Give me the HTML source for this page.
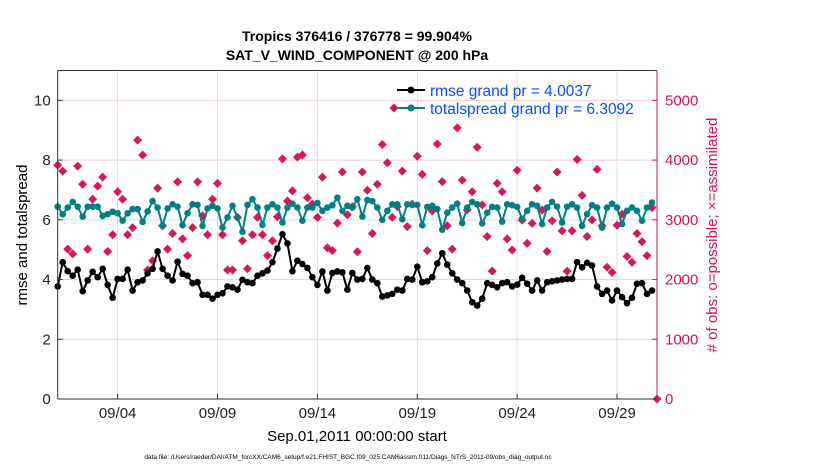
<!DOCTYPE html>
<html><head><meta charset="utf-8"><style>
body{margin:0;background:#fff;}
svg{display:block;font-family:"Liberation Sans",sans-serif;}
</style></head><body>
<svg id="chart" width="830" height="470" viewBox="0 0 830 470" xmlns="http://www.w3.org/2000/svg">
<text x="357" y="41" text-anchor="middle" font-size="14" font-weight="bold">Tropics 376416 / 376778 = 99.904%</text>
<text x="357" y="60" text-anchor="middle" font-size="14" font-weight="bold">SAT_V_WIND_COMPONENT @ 200 hPa</text>
<g id="grid"></g>
<g id="marks"></g>
<g id="axes"></g>
<text transform="translate(27,235) rotate(-90)" text-anchor="middle" font-size="15">rmse and totalspread</text>
<text transform="translate(717,235) rotate(-90)" text-anchor="middle" font-size="15" fill="#d1145a"># of obs: o=possible; ×=assimilated</text>
<text x="357" y="441" text-anchor="middle" font-size="15">Sep.01,2011 00:00:00 start</text>
<text x="348" y="459" text-anchor="middle" font-size="6.5">data file: /Users/raeder/DAI/ATM_forcXX/CAM6_setup/f.e21.FHIST_BGC.f09_025.CAM6assim.011/Diags_NTrS_2011-09/obs_diag_output.nc</text>
<g>
<line x1="397" y1="90" x2="425" y2="90" stroke="#000" stroke-width="2"/>
<circle cx="411" cy="90" r="3.5" fill="#000"/>
<text x="430" y="96" font-size="15.5" fill="#0b4dff">rmse grand pr = 4.0037</text>
<line x1="397" y1="108" x2="425" y2="108" stroke="#008080" stroke-width="2"/>
<circle cx="411" cy="108" r="3.5" fill="#008080"/>
<path d="M394,103.5 L398.5,108 L394,112.5 L389.5,108Z" fill="#d1145a"/>
<text x="430" y="114" font-size="15.5" fill="#0b4dff">totalspread grand pr = 6.3092</text>
</g>
</svg>
<script>
const xTickLabels=["09/04","09/09","09/14","09/19","09/24","09/29"];
const xTickDays=[3,8,13,18,23,28];
const yTicks=[0,2,4,6,8,10];
const y2Ticks=[0,1000,2000,3000,4000,5000];
const rmse=[3.77,4.58,4.28,4.13,4.33,3.61,3.97,4.26,4.08,4.36,3.82,3.39,4.02,4.02,4.33,3.63,3.91,3.97,4.21,4.36,4.94,4.36,4.13,3.97,4.6,4.19,4.13,3.88,3.91,3.49,3.49,3.36,3.49,3.54,3.77,3.74,3.66,3.99,3.91,3.88,4.13,
4.21,4.3,4.58,5.04,5.52,5.21,4.28,4.63,4.52,4.39,4.08,3.82,4.27,3.63,4.22,4.27,4.24,3.66,4.22,4.0,4.02,4.39,4.0,3.88,3.43,3.47,3.52,3.66,3.63,4.02,4.0,4.43,3.91,3.94,4.08,4.54,4.88,4.5,4.21,4.0,
3.88,3.63,3.24,3.13,3.36,3.88,3.82,3.74,3.88,3.91,3.77,3.83,4.06,3.86,3.63,3.97,3.63,3.91,3.94,3.97,4.0,4.02,4.02,4.58,4.41,4.56,4.47,3.77,3.52,3.63,3.3,3.63,3.41,3.21,3.39,3.86,3.88,3.52,3.63];
const spread=[6.44,6.19,6.41,6.6,6.44,6.11,6.44,6.44,6.44,6.13,6.19,6.27,6.22,5.97,6.22,6.36,6.36,5.93,6.28,6.63,6.41,5.8,6.38,6.52,6.44,5.82,6.22,6.52,6.5,5.8,6.38,6.47,6.38,5.74,6.08,6.47,6.08,5.6,6.5,6.69,6.41,
5.83,6.41,6.52,6.41,5.91,6.41,6.54,6.41,5.97,6.41,6.41,6.56,6.3,6.41,6.49,6.74,6.3,6.47,6.41,6.69,6.11,6.66,6.63,6.41,6.0,6.3,6.52,6.52,6.02,6.52,6.5,6.5,5.82,6.43,6.47,6.36,5.67,6.24,6.41,6.54,
5.89,6.41,6.6,6.52,5.88,6.24,6.43,6.41,5.94,6.52,6.49,6.43,6.04,6.3,6.52,6.47,5.86,6.41,6.6,6.44,5.91,6.44,6.52,6.41,5.8,6.19,6.49,6.41,5.74,6.41,6.54,6.41,5.86,6.3,6.41,6.3,5.97,6.41,6.58];
const obsCount=[3915,3815,2510,2430,3900,3595,2510,3345,3565,3715,2470,2750,3470,3345,2750,2870,4335,4085,2160,2315,3530,2900,2510,2770,3635,2680,2400,2870,3635,3065,2750,3345,3610,2750,2160,2160,3040,2650,2180,2750,3040,
2750,2400,2650,3050,4020,3315,3485,4050,4085,3370,3260,3040,3715,2530,2485,2945,3800,3085,3220,2465,3800,3495,2770,3595,4260,3955,3040,3220,3815,2885,3260,4065,3760,2485,3150,4270,3640,2900,2510,
4540,3665,3165,3470,4215,3250,2720,2140,3610,3470,2680,2495,3830,2995,2605,2940,3530,3165,2470,2985,3800,2815,2140,2815,4010,3410,2720,3000,3845,2900,2205,2120,2910,3095,2385,2290,2770,2635,2400,3205,0];
const NS="http://www.w3.org/2000/svg";
const L=57.7,R=657,T=70.5,B=399;
const xS=i=>L+(i*0.25)*(R-L)/30;
const yS=v=>B-v*(B-T)/11;
const y2S=v=>B-v*(B-T)/5500;
const grid=document.getElementById('grid'),marks=document.getElementById('marks'),axes=document.getElementById('axes');
function mk(tag,attrs,parent){const e=document.createElementNS(NS,tag);for(const k in attrs)e.setAttribute(k,attrs[k]);parent.appendChild(e);return e;}
xTickDays.forEach((d,k)=>{const x=xS(d*4);
const g=mk('line',{x1:x,x2:x,y1:T,y2:B,stroke:'#dcdcdc','stroke-width':1},grid);


mk('line',{x1:x,x2:x,y1:B,y2:B-5,stroke:'#333'},axes);
const t=mk('text',{x:x,y:B+19,'text-anchor':'middle','font-size':15,fill:'#222'},axes);t.textContent=xTickLabels[k];

});
yTicks.forEach(v=>{const y=yS(v);
if(v>0&&v<11){const g=mk('line',{x1:L,x2:R,y1:y,y2:y,stroke:'#f0d0dc','stroke-width':1},grid);

}
mk('line',{x1:L,x2:L+5,y1:y,y2:y,stroke:'#333'},axes);
const t=mk('text',{x:L-7,y:y+5,'text-anchor':'end','font-size':15,fill:'#222'},axes);t.textContent=v;

});
y2Ticks.forEach(v=>{const y=y2S(v);
mk('line',{x1:R,x2:R-5,y1:y,y2:y,stroke:'#d1145a'},axes);
const t=mk('text',{x:R+8,y:y+5,'font-size':15,fill:'#d1145a'},axes);t.textContent=v;

});
mk('line',{x1:L,x2:L,y1:T,y2:B,stroke:'#333'},axes);
mk('line',{x1:L,x2:R,y1:B,y2:B,stroke:'#333'},axes);
mk('line',{x1:L,x2:R,y1:T,y2:T,stroke:'#333'},axes);
mk('line',{x1:R,x2:R,y1:T,y2:B,stroke:'#d1145a'},axes);
obsCount.forEach((v,i)=>{const x=xS(i),y=y2S(v);
const p=mk('path',{d:`M${x},${y-4.5}L${x+4.5},${y}L${x},${y+4.5}L${x-4.5},${y}Z`,fill:'#d6175c'},marks);

});
function series(vals,color,name){
const pl=mk('polyline',{points:vals.map((v,i)=>xS(i)+','+yS(v)).join(' '),fill:'none',stroke:color,'stroke-width':2},marks);


vals.forEach((v,i)=>{const c=mk('circle',{cx:xS(i),cy:yS(v),r:3.3,fill:color},marks);

});}
series(spread,'#008080','totalspread');
series(rmse,'#000000','rmse');
</script>
</body></html>
